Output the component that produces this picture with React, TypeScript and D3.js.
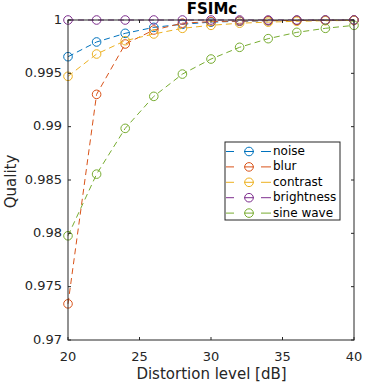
import React from "react";
import * as d3 from "d3";

const levels = [20, 22, 24, 26, 28, 30, 32, 34, 36, 38, 40];
const seriesNames = ["noise", "blur", "contrast", "brightness", "sine wave"];
const noise = [0.99656, 0.99794, 0.99875, 0.99931, 0.9996, 0.9998, 0.99988, 0.99993, 0.99996, 0.99998, 0.99999];
const blur = [0.97339, 0.99303, 0.99775, 0.99906, 0.9997, 0.99985, 0.9999, 0.99994, 0.99996, 0.99998, 0.99999];
const contrast = [0.99472, 0.99681, 0.99806, 0.99869, 0.99922, 0.9995, 0.9997, 0.9998, 0.99988, 0.99993, 0.99996];
const brightness = [1, 1, 1, 1, 1, 1, 1, 1, 1, 1, 1];
const sineWave = [0.97977, 0.98555, 0.98984, 0.99284, 0.99493, 0.99634, 0.99744, 0.99825, 0.99884, 0.99922, 0.9995];
const colors = ["#0072BD", "#D95319", "#EDB120", "#7E2F8E", "#77AC30"];
const xTicks = [20, 25, 30, 35, 40];
const yTicks = [0.97, 0.975, 0.98, 0.985, 0.99, 0.995, 1];
const yTickLabels = ["0.97", "0.975", "0.98", "0.985", "0.99", "0.995", "1"];

const allSeries = [noise, blur, contrast, brightness, sineWave];

export default function App() {
  const left = 68, right = 354, top = 20, bottom = 340;
  const x = d3.scaleLinear().domain([20, 40]).range([left, right]);
  const y = d3.scaleLinear().domain([0.97, 1]).range([bottom, top]);
  const line = d3.line<number>().x((_, i) => x(levels[i])).y((d) => y(d));
  const font = "DejaVu Sans, sans-serif";
  const tickLen = 3;
  const txt = "#262626";
  const legX = 225, legY = 142, legW = 115, legH = 78;
  return (
    <svg width={365} height={385} style={{ position: "absolute", left: 0, top: 0, background: "#fff" }} fontFamily={font}>
      <rect x={0} y={0} width={365} height={385} fill="#fff" />
      {allSeries.map((s, k) => (
        <g key={k}>
          <path d={line(s) || ""} fill="none" stroke={colors[k]} strokeWidth={1} strokeDasharray="6,4" />
          {s.map((v, i) => (
            <circle key={i} cx={x(levels[i])} cy={y(v)} r={4.3} fill="none" stroke={colors[k]} strokeWidth={1} />
          ))}
        </g>
      ))}
      <rect x={left} y={top} width={right - left} height={bottom - top} fill="none" stroke="#262626" strokeWidth={1} />
      {xTicks.map((t) => (
        <g key={t}>
          <line x1={x(t)} x2={x(t)} y1={bottom} y2={bottom - tickLen} stroke="#262626" />
          <line x1={x(t)} x2={x(t)} y1={top} y2={top + tickLen} stroke="#262626" />
          <text x={x(t)} y={bottom + 17} fontSize={13} textAnchor="middle" fill={txt} dominantBaseline="middle">{t}</text>
        </g>
      ))}
      {yTicks.map((t, i) => (
        <g key={t}>
          <line x1={left} x2={left + tickLen} y1={y(t)} y2={y(t)} stroke="#262626" />
          <line x1={right} x2={right - tickLen} y1={y(t)} y2={y(t)} stroke="#262626" />
          <text x={left - 6} y={y(t)} fontSize={13} textAnchor="end" fill={txt} dominantBaseline="middle">{yTickLabels[i]}</text>
        </g>
      ))}
      <text x={212} y={9} fontSize={15} fontWeight="bold" textAnchor="middle" dominantBaseline="middle" fill="#000">FSIMc</text>
      <text x={211.5} y={374} fontSize={15} textAnchor="middle" dominantBaseline="middle" fill={txt}>Distortion level [dB]</text>
      <text transform={`translate(11,${(top + bottom) / 2 + 1.5}) rotate(-90)`} fontSize={15} textAnchor="middle" dominantBaseline="middle" fill={txt}>Quality</text>
      <rect x={legX} y={legY} width={legW} height={legH} fill="#fff" stroke="#262626" strokeWidth={1} />
      {seriesNames.map((n, k) => {
        const yy = legY + 9.5 + k * 15.4;
        return (
          <g key={n}>
            <line x1={legX + 1} x2={legX + 9} y1={yy} y2={yy} stroke={colors[k]} />
            <circle cx={legX + 24} cy={yy} r={4.3} fill="none" stroke={colors[k]} />
            <line x1={legX + 19} x2={legX + 29} y1={yy} y2={yy} stroke={colors[k]} />
            <line x1={legX + 36} x2={legX + 46} y1={yy} y2={yy} stroke={colors[k]} />
            <text x={legX + 48} y={yy} fontSize={12} dominantBaseline="middle" fill="#000">{n}</text>
          </g>
        );
      })}
    </svg>
  );
}
